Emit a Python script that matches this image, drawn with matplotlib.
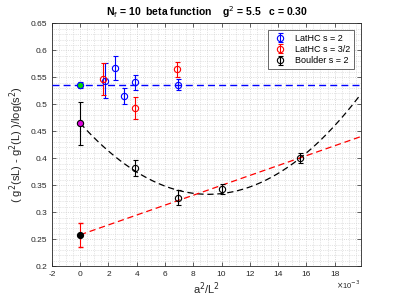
import numpy as np
import matplotlib
matplotlib.use('Agg')
import matplotlib.pyplot as plt
import matplotlib.ticker as mticker

# Dados (x em unidades de 1e-3)
latS2_x = [1.73, 2.5, 3.07, 3.9, 6.94]
latS2_y = [0.544, 0.567, 0.516, 0.541, 0.536]
latS2_err = [0.032, 0.022, 0.015, 0.014, 0.010]
latS2_ext = [0.0, 0.536, 0.006]   # x, y, err (ponto extrapolado)
latS2_cont = 0.536

lat32_x = [1.61, 3.9, 6.87]
lat32_y = [0.547, 0.493, 0.565]
lat32_err = [0.029, 0.020, 0.014]

bou_x = [3.9, 6.94, 10.0, 15.56]
bou_y = [0.382, 0.327, 0.343, 0.401]
bou_err = [0.015, 0.014, 0.009, 0.009]
bou_ext = [0.0, 0.465, 0.040]
bou_fit = [0.0016, -0.02906, 0.465]   # coeficientes do ajuste quadrático

red_ext = [0.0, 0.258, 0.022]
red_fit = [0.00917, 0.258]            # ajuste linear

# Cores
BLUE = (0.0, 0.0, 1.0)
RED = (1.0, 0.0, 0.0)
BLACK = (0.0, 0.0, 0.0)
GRIDC = (0.80, 0.80, 0.80)
TXT = (0.15, 0.15, 0.15)

plt.rcParams['font.family'] = 'Liberation Sans'

fig = plt.figure(figsize=(3.99, 2.99), dpi=100)
ax = fig.add_axes((0.130, 0.110, 0.776, 0.812))

ebkw = dict(fmt='o', markersize=4.5, markerfacecolor='none', capsize=1.8,
            elinewidth=0.8, capthick=0.8, markeredgewidth=0.8, zorder=5)
DASH = (0, (5, 3))

# linhas de ajuste
ax.axhline(latS2_cont, color=BLUE, linestyle=DASH, linewidth=1.0, zorder=3)
xf = np.linspace(0, 19.8, 200)
ax.plot(xf, np.polyval(bou_fit, xf), color=BLACK, linestyle=DASH,
        linewidth=0.9, zorder=3)
xr = np.linspace(0, 20, 50)
ax.plot(xr, np.polyval(red_fit, xr), color=RED, linestyle=DASH,
        linewidth=0.9, zorder=3)

h1 = ax.errorbar(latS2_x, latS2_y, yerr=latS2_err, color=BLUE, **ebkw)
h2 = ax.errorbar(lat32_x, lat32_y, yerr=lat32_err, color=RED, **ebkw)
h3 = ax.errorbar(bou_x, bou_y, yerr=bou_err, color=BLACK, **ebkw)

# pontos extrapolados
ax.errorbar([latS2_ext[0]], [latS2_ext[1]], yerr=[latS2_ext[2]], fmt='o',
            color=BLUE, markerfacecolor=(0.0, 0.85, 0.0), markersize=4.5,
            capsize=1.8, elinewidth=0.8, markeredgewidth=0.8, zorder=6)
ax.errorbar([bou_ext[0]], [bou_ext[1]], yerr=[bou_ext[2]], fmt='o',
            color=BLACK, markerfacecolor=(0.85, 0.0, 0.85), markersize=4.5,
            capsize=1.8, elinewidth=0.8, markeredgewidth=0.8, zorder=6)
ax.errorbar([red_ext[0]], [red_ext[1]], yerr=[red_ext[2]], fmt='none',
            ecolor=RED, capsize=1.8, elinewidth=0.8, zorder=5)
ax.plot([red_ext[0]], [red_ext[1]], 'o', color=BLACK, markersize=4.2, zorder=6)

ax.set_xlim(-2, 19.9)
ax.set_ylim(0.2, 0.65)
ax.xaxis.set_major_locator(mticker.FixedLocator(np.arange(-2, 19, 2)))
ax.yaxis.set_major_locator(mticker.MultipleLocator(0.05))
ax.xaxis.set_minor_locator(mticker.MultipleLocator(0.5))
ax.yaxis.set_minor_locator(mticker.MultipleLocator(0.01))
ax.xaxis.set_major_formatter(mticker.FormatStrFormatter('%g'))
ax.yaxis.set_major_formatter(mticker.FormatStrFormatter('%g'))

ax.grid(which='major', color=GRIDC, linestyle=':', linewidth=0.6)
ax.grid(which='minor', color=GRIDC, linestyle=':', linewidth=0.5)
ax.set_axisbelow(True)
ax.tick_params(which='both', direction='in', top=True, right=True,
               labelsize=6, colors=TXT, width=0.5)
ax.tick_params(which='major', length=3)
ax.tick_params(which='minor', length=0)
for s in ax.spines.values():
    s.set_color(TXT)
    s.set_linewidth(0.6)

ax.set_title(r'N$_{\rm f}$ = 10  beta function    g$^2$ = 5.5   c = 0.30',
             fontsize=7.5, fontweight='bold', pad=5)
ax.set_xlabel(r'a$^2$/L$^2$', fontsize=8, color=TXT, labelpad=2)
ax.set_ylabel(r'( g$^2$(sL) - g$^2$(L) )/log(s$^2$)', fontsize=8, color=TXT,
              labelpad=3)
ax.text(0.995, -0.075, r'$\times$10$^{-3}$', transform=ax.transAxes,
        fontsize=5.5, color=TXT, ha='right', va='center')

leg = ax.legend([h1, h2, h3], ['LatHC s = 2', 'LatHC s = 3/2', 'Boulder s = 2'],
                loc='upper right', fontsize=6.5, frameon=True, fancybox=False,
                borderpad=0.4, labelspacing=0.25, handlelength=1.8,
                bbox_to_anchor=(0.99, 0.99))
leg.get_frame().set_edgecolor(TXT)
leg.get_frame().set_linewidth(0.6)

fig.savefig('out.png', dpi=100)
